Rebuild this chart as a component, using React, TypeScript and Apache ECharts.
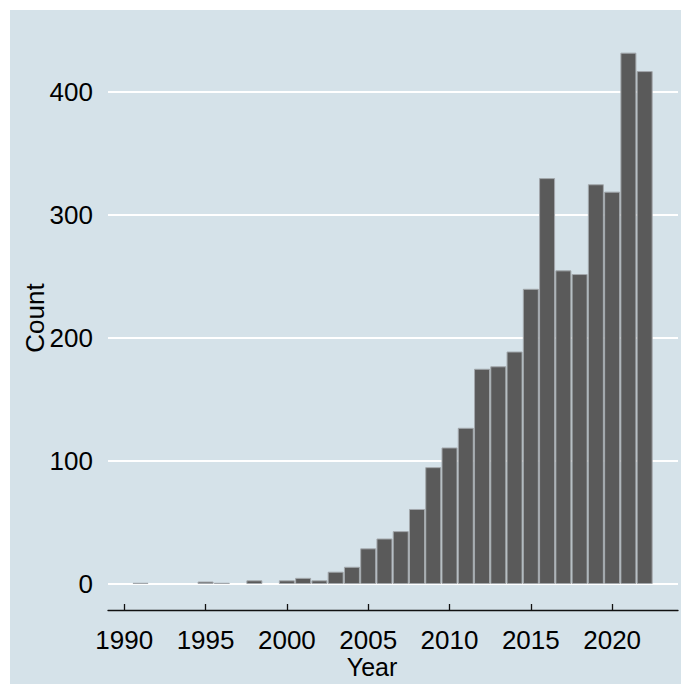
import React, { useEffect, useRef } from "react";
import * as echarts from "echarts";

const years = [1991, 1995, 1996, 1998, 2000, 2001, 2002, 2003, 2004, 2005, 2006, 2007, 2008, 2009, 2010, 2011, 2012, 2013, 2014, 2015, 2016, 2017, 2018, 2019, 2020, 2021, 2022];
const counts = [1, 2, 1, 3, 3, 5, 3, 10, 14, 29, 37, 43, 61, 95, 111, 127, 175, 177, 189, 240, 330, 255, 252, 325, 319, 432, 417];
const xTickLabels = [1990, 1995, 2000, 2005, 2010, 2015, 2020];
const yTickLabels = [0, 100, 200, 300, 400];

const FONT = "'Liberation Sans', Arial, Helvetica, sans-serif";

export default function App() {
  const ref = useRef<HTMLDivElement>(null);
  useEffect(() => {
    if (!ref.current) return;
    const chart = echarts.init(ref.current, null, { renderer: "svg" });
    chart.setOption({
      animation: false,
      backgroundColor: "#d5e2e9",
      textStyle: { fontFamily: FONT },
      grid: { left: 98, right: 3, top: 82, bottom: 100, containLabel: false },
      xAxis: {
        type: "value",
        min: 1989,
        max: 2024.05,
        offset: 26,
        splitLine: { show: false },
        axisLine: { show: true, onZero: false, lineStyle: { color: "#111", width: 1.3 } },
        axisTick: { show: true, inside: true, length: 6, lineStyle: { color: "#111", width: 1.3 }, customValues: xTickLabels },
        axisLabel: { color: "#000", fontSize: 26, lineHeight: 18, fontFamily: FONT, margin: 21, customValues: xTickLabels, formatter: (v: number) => String(v) },
      },
      yAxis: {
        type: "value",
        min: 0,
        max: 400,
        interval: 100,
        axisLine: { show: false },
        axisTick: { show: false },
        splitLine: { show: true, lineStyle: { color: "#ffffff", width: 2 } },
        axisLabel: { color: "#000", fontSize: 26, fontFamily: FONT, margin: 15, customValues: yTickLabels },
      },
      graphic: [
        { type: "text", x: 25, y: 308, rotation: Math.PI / 2, style: { text: "Count", fontSize: 26, fontFamily: FONT, fill: "#000", align: "center", verticalAlign: "middle" } },
        { type: "text", x: 362, y: 657, style: { text: "Year", fontSize: 25, lineHeight: 16, fontFamily: FONT, fill: "#000", align: "center", verticalAlign: "middle" } },
      ],
      series: [
        {
          type: "bar",
          clip: false,
          barWidth: 16,
          data: years.map((y, i) => [y, counts[i]]),
          itemStyle: { color: "#5a5a5a", borderColor: "#a3a8ac", borderWidth: 1 },
        },
      ],
    });
    return () => chart.dispose();
  }, []);
  return (
    <div style={{ position: "fixed", left: 0, top: 0, width: 681, height: 684, background: "#ffffff" }}>
      <div ref={ref} style={{ position: "absolute", left: 10, top: 10, width: 671, height: 674 }} />
    </div>
  );
}
